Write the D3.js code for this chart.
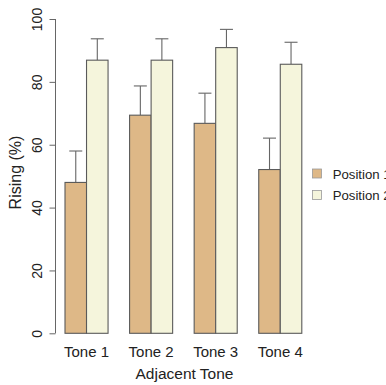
<!DOCTYPE html>
<html><head><meta charset="utf-8">
<script src="https://cdn.jsdelivr.net/npm/d3@7"></script>
<style>body{margin:0;background:#fff}svg{display:block;font-family:"Liberation Sans",Arial,sans-serif}</style>
</head><body>
<script>
const tones = ["Tone 1","Tone 2","Tone 3","Tone 4"];
const positions = ["Position 1","Position 2"];
const pos1Values = [48.0, 69.4, 66.8, 52.1];
const pos2Values = [86.9, 86.9, 90.9, 85.6];
const pos1Upper = [58.0, 78.7, 76.4, 62.1];
const pos2Upper = [93.7, 93.7, 96.7, 92.6];
const yTicks = [0, 20, 40, 60, 80, 100];
const colors = ["#DEB887", "#F5F5DC"];

const W = 386, H = 385;
const svg = d3.select("body").append("svg").attr("width", W).attr("height", H);

const y = d3.scaleLinear().domain([0, 100]).range([333.3, 19]);
const x = d3.scaleBand().domain(tones).range([65, 301.8]).paddingInner(1/3).paddingOuter(0);
const xi = d3.scaleBand().domain(positions).range([0, x.bandwidth()]);

const data = [];
tones.forEach((t, i) => {
  data.push({tone: t, pos: positions[0], v: pos1Values[i], up: pos1Upper[i], c: colors[0]});
  data.push({tone: t, pos: positions[1], v: pos2Values[i], up: pos2Upper[i], c: colors[1]});
});

// error bars
const eb = svg.append("g").attr("stroke", "#666").attr("stroke-width", 1.1);
data.forEach(d => {
  const cx = x(d.tone) + xi(d.pos) + xi.bandwidth() / 2;
  eb.append("line").attr("x1", cx).attr("x2", cx).attr("y1", y(d.v)).attr("y2", y(d.up));
  eb.append("line").attr("x1", cx - 6.5).attr("x2", cx + 6.5).attr("y1", y(d.up)).attr("y2", y(d.up));
});

// bars
svg.append("g").selectAll("rect").data(data).join("rect")
  .attr("x", d => x(d.tone) + xi(d.pos))
  .attr("width", xi.bandwidth())
  .attr("y", d => y(d.v))
  .attr("height", d => y(0) - y(d.v))
  .attr("fill", d => d.c)
  .attr("stroke", "#5a5a5a")
  .attr("stroke-width", 1.1);

// y axis
const yAxis = svg.append("g").attr("transform", "translate(55.5,0)")
  .call(d3.axisLeft(y).tickValues(yTicks).tickSize(6).tickPadding(9));
yAxis.select(".domain").attr("stroke", "#666").attr("d", `M0,${y(100)}V${y(0)}`);
yAxis.selectAll(".tick line").attr("stroke", "#666");
yAxis.selectAll(".tick text")
  .attr("font-size", 14).attr("fill", "#222")
  .attr("x", null).attr("dy", null)
  .attr("transform", "translate(-13.5,0) rotate(-90)")
  .attr("text-anchor", "middle");

// x labels
svg.append("g").selectAll("text").data(tones).join("text")
  .attr("x", d => x(d) + x.bandwidth() / 2)
  .attr("y", 356.5)
  .attr("text-anchor", "middle")
  .attr("font-size", 15).attr("fill", "#222")
  .text(d => d);

svg.append("text").attr("x", 184.5).attr("y", 378.5).attr("text-anchor", "middle")
  .attr("font-size", 15.5).attr("fill", "#222").text("Adjacent Tone");

svg.append("text").attr("transform", "translate(20.5,172.5) rotate(-90)")
  .attr("text-anchor", "middle").attr("font-size", 16).attr("fill", "#222").text("Rising (%)");

// legend
const lg = svg.append("g");
positions.forEach((p, i) => {
  const yy = 173.5 + i * 21.5;
  lg.append("rect").attr("x", 312.5).attr("y", yy - 4.5).attr("width", 9).attr("height", 9)
    .attr("fill", colors[i]).attr("stroke", "#999").attr("stroke-width", 0.8);
  lg.append("text").attr("x", 332.7).attr("y", yy + 5).attr("font-size", 13.2).attr("fill", "#222").text(p);
});
</script>
</body></html>
